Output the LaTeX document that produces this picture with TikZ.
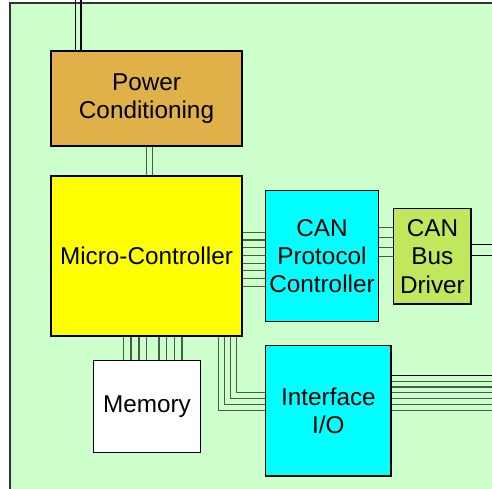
\documentclass[tikz,border=0pt]{standalone}
\usepackage{fontspec}
\setmainfont{Liberation Sans}
\begin{document}
\begin{tikzpicture}[x=1pt,y=-1pt,
  blk/.style={draw=black,line width=1.3pt,inner sep=0pt,align=center,
    font=\fontsize{24.3}{28.4}\selectfont},
  wire/.style={draw=wirec,line width=1.1pt},
  wireb/.style={draw=black,line width=1.1pt}]
\definecolor{bgc}{RGB}{204,255,204}
\definecolor{pwrc}{RGB}{223,177,72}
\definecolor{mcuc}{RGB}{255,255,0}
\definecolor{cyanc}{RGB}{0,255,255}
\definecolor{busc}{RGB}{193,232,92}
\definecolor{wirec}{RGB}{72,92,72}
\useasboundingbox (0,0) rectangle (492,489);
\clip (0,0) rectangle (492,489);
\draw[fill=bgc,draw=black!80,line width=1.2pt] (10,3) rectangle (520,520);
% blocks
\node[blk,fill=pwrc,minimum width=191pt,minimum height=95pt] (pwr) at (146.5,98.5) {Power\\Conditioning};
\node[blk,fill=mcuc,minimum width=191pt,minimum height=160pt] (mcu) at (146.5,256) {Micro-Controller};
\node[blk,fill=cyanc,minimum width=112.6pt,minimum height=131pt] (canpc) at (322,256.2) {CAN\\Protocol\\Controller};
\node[blk,fill=busc,minimum width=77.3pt,minimum height=95.3pt] (bus) at (432.4,256.4) {CAN\\Bus\\Driver};
\node[blk,fill=white,minimum width=107.4pt,minimum height=92pt] (mem) at (147,406.3) {Memory};
\node[blk,fill=cyanc,minimum width=125.3pt,minimum height=130.7pt] (io) at (328.4,410.7) {Interface\\I/O};
\coordinate (rout) at (495,0);
% top power lines
\foreach \x in {75.7,81} \draw[wireb] (\x,-2) -- (pwr.north -| \x,0);
% power to mcu
\foreach \x in {146.7,152.7} \draw[wire] (pwr.south -| \x,0) -- (mcu.north -| \x,0);
% mcu to can protocol
\foreach \y in {232.3,240.0,247.7,255.4,263.1,270.8,278.5,286.2} \draw[wire] (mcu.east |- 0,\y) -- (canpc.west |- 0,\y);
% can protocol to bus driver
\foreach \y in {227.7,237.4,247.1,256.6} \draw[wire] (canpc.east |- 0,\y) -- (bus.west |- 0,\y);
% bus driver out
\foreach \y in {244.3,255.7} \draw[wireb] (bus.east |- 0,\y) -- (rout |- 0,\y);
% mcu to memory
\foreach \x in {123.3,131,139,146.7,159,166.7,174.7,182} \draw[wire] (mcu.south -| \x,0) -- (mem.north -| \x,0);
% mcu to interface
\foreach \x/\y in {218.3/410.7,224.2/404.7,230.2/398.7,236.1/392.7}
  \draw[wire] (mcu.south -| \x,0) |- (io.west |- 0,\y);
% interface out
\foreach \y in {375.3,381.2,387.0,392.9,398.7,404.5,410.4} \draw[wire] (io.east |- 0,\y) -- (rout |- 0,\y);
\draw[wireb] (io.east |- 0,375.3) -- (rout |- 0,375.3);
\end{tikzpicture}
\end{document}
